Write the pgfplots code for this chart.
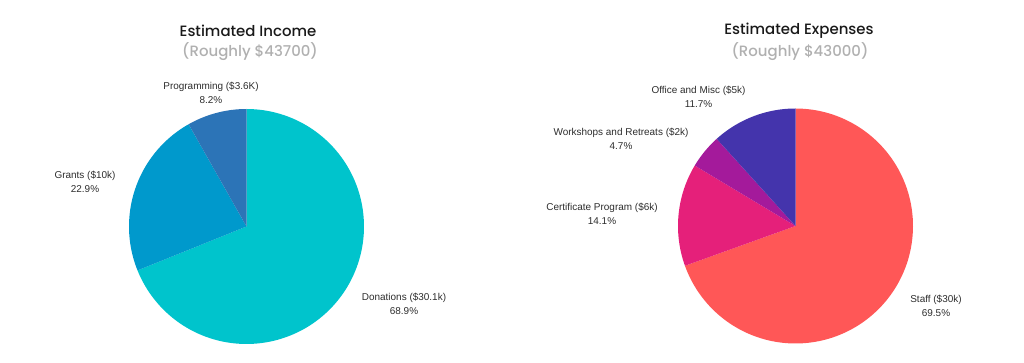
\documentclass[border=0pt]{standalone}
\usepackage{pgfplots}
\pgfplotsset{compat=1.18}
\usepackage{fontspec}
\setmainfont{Liberation Sans}
\newfontfamily\titlefont{Poppins}[UprightFont=* Medium]
\definecolor{cDon}{RGB}{0,196,204}
\definecolor{cGra}{RGB}{0,153,204}
\definecolor{cPro}{RGB}{44,116,183}
\definecolor{cSta}{RGB}{255,87,87}
\definecolor{cCer}{RGB}{229,32,122}
\definecolor{cWor}{RGB}{164,26,155}
\definecolor{cOff}{RGB}{68,52,172}
\definecolor{txt}{RGB}{45,45,45}
\definecolor{sub}{RGB}{176,176,176}
% shares in percent, clockwise from 12 o'clock
\def\pDon{68.9}\def\pGra{22.9}\def\pPro{8.2}
\def\pSta{69.5}\def\pCer{14.1}\def\pWor{4.7}\def\pOff{11.7}
\begin{document}
\begin{tikzpicture}
\path[use as bounding box] (0,0) rectangle (1024bp,363bp);
\pgfplotsset{piestyle/.style={anchor=origin, x=117.5bp, y=117.5bp,
  xmin=-1, xmax=1, ymin=-1, ymax=1, hide axis, clip=false}}
% ---------- Income ----------
\begin{axis}[piestyle, at={(246.5bp,136.5bp)}]
\pgfmathsetmacro\aA{90}
\pgfmathsetmacro\aB{90-3.6*\pDon}
\pgfmathsetmacro\aC{\aB-3.6*\pGra}
\pgfmathsetmacro\aD{\aC-3.6*\pPro}
\addplot[fill=cDon, draw=none, domain=\aA:\aB, samples=120, variable=\t] ({cos(\t)},{sin(\t)}) -- (axis cs:0,0) -- cycle;
\addplot[fill=cGra, draw=none, domain=\aB:\aC, samples=60, variable=\t] ({cos(\t)},{sin(\t)}) -- (axis cs:0,0) -- cycle;
\addplot[fill=cPro, draw=none, domain=\aC:\aD, samples=30, variable=\t] ({cos(\t)},{sin(\t)}) -- (axis cs:0,0) -- cycle;
\end{axis}
% ---------- Expenses ----------
\begin{axis}[piestyle, at={(795.5bp,137bp)}]
\pgfmathsetmacro\bA{90}
\pgfmathsetmacro\bB{90-3.6*\pSta}
\pgfmathsetmacro\bC{\bB-3.6*\pCer}
\pgfmathsetmacro\bD{\bC-3.6*\pWor}
\pgfmathsetmacro\bE{\bD-3.6*\pOff}
\addplot[fill=cSta, draw=none, domain=\bA:\bB, samples=120, variable=\t] ({cos(\t)},{sin(\t)}) -- (axis cs:0,0) -- cycle;
\addplot[fill=cCer, draw=none, domain=\bB:\bC, samples=40, variable=\t] ({cos(\t)},{sin(\t)}) -- (axis cs:0,0) -- cycle;
\addplot[fill=cWor, draw=none, domain=\bC:\bD, samples=20, variable=\t] ({cos(\t)},{sin(\t)}) -- (axis cs:0,0) -- cycle;
\addplot[fill=cOff, draw=none, domain=\bD:\bE, samples=40, variable=\t] ({cos(\t)},{sin(\t)}) -- (axis cs:0,0) -- cycle;
\end{axis}
% ---------- titles ----------
\node[font=\titlefont\fontsize{15}{18}\selectfont, text=black!90] at (248bp,332bp) {Estimated Income};
\node[font=\titlefont\fontsize{15}{18}\selectfont, text=sub] at (250bp,311bp) {(Roughly \$43700)};
\node[font=\titlefont\fontsize{15}{18}\selectfont, text=black!90] at (799bp,332bp) {Estimated Expenses};
\node[font=\titlefont\fontsize{15}{18}\selectfont, text=sub] at (800bp,311bp) {(Roughly \$43000)};
% ---------- labels ----------
\tikzset{lab/.style={font=\fontsize{10}{14}\selectfont, text=txt, align=center}}
\node[lab] at (211bp,270bp) {Programming (\$3.6K)\\8.2\%};
\node[lab] at (85bp,181bp) {Grants (\$10k)\\22.9\%};
\node[lab] at (404bp,59bp) {Donations (\$30.1k)\\68.9\%};
\node[lab] at (698.5bp,266bp) {Office and Misc (\$5k)\\11.7\%};
\node[lab] at (621bp,224bp) {Workshops and Retreats (\$2k)\\4.7\%};
\node[lab] at (602bp,149bp) {Certificate Program (\$6k)\\14.1\%};
\node[lab] at (936bp,57bp) {Staff (\$30k)\\69.5\%};
\end{tikzpicture}
\end{document}
